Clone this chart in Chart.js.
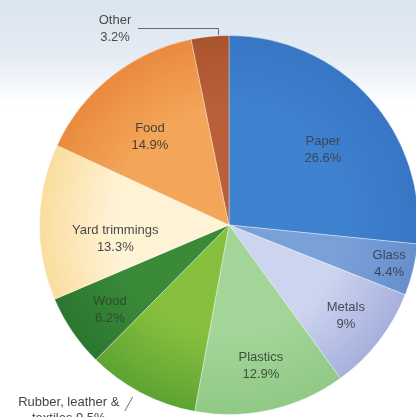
<!DOCTYPE html>
<html>
<head>
<meta charset="utf-8">
<script src="https://cdn.jsdelivr.net/npm/chart.js@4.4.0/dist/chart.umd.min.js"></script>
<style>
  html, body { margin: 0; padding: 0; }
  body {
    width: 416px; height: 417px; overflow: hidden; position: relative;
    background: linear-gradient(to bottom, #dbe5ef 0px, #e4ebf3 55px, #ffffff 105px);
  }
  #pie { position: absolute; left: 0; top: 0; }
</style>
</head>
<body>
<canvas id="pie" width="458" height="450"></canvas>
<script>
// categories, clockwise from 12 o'clock
const categorias = ['Paper', 'Glass', 'Metals', 'Plastics', 'Rubber, leather & textiles', 'Wood', 'Yard trimmings', 'Food', 'Other'];
const valores = [26.6, 4.4, 9, 12.9, 9.5, 6.2, 13.3, 14.9, 3.2];
const etiquetas = [
  ['Paper', '26.6%'],
  ['Glass', '4.4%'],
  ['Metals', '9%'],
  ['Plastics', '12.9%'],
  ['Rubber, leather &', 'textiles 9.5%'],
  ['Wood', '6.2%'],
  ['Yard trimmings', '13.3%'],
  ['Food', '14.9%'],
  ['Other', '3.2%']
];
// colour at the centre / at the rim
const coloresCentro = ['#3f82d0', '#7aa0d8', '#cdd4ef', '#a2d597', '#86bf3e', '#3a8a38', '#fff3d6', '#f3a659', '#b9603a'];
const coloresBorde  = ['#3776c4', '#6690cc', '#a6b0dc', '#90c986', '#5ca332', '#2b7630', '#fadd9e', '#ea8a3e', '#aa542e'];

// posicion de las etiquetas: fraccion del radio y corrimientos
const posRadio = [0.64, 0.87, 0.78, 0.76, 0, 0.76, 0.6, 0.63, 0];
const posDx    = [4, 0, 0, 0, 0, 0, 0, -5, 0];
const posDy    = [6, 0, 0, 0, 0, 4, 16, 6, 0];
const colorTexto = ['#3d4657', '#3d4657', '#444a5a', '#3f5040', '#444', '#2f4a2f', '#4a4a4a', '#4a4036', '#4a4a4a'];

function gradiente(ctx, i) {
  const chart = ctx.chart;
  const area = chart.chartArea;
  if (!area) return coloresBorde[i];
  const cx = (area.left + area.right) / 2;
  const cy = (area.top + area.bottom) / 2;
  const r = Math.min(area.right - area.left, area.bottom - area.top) / 2;
  const g = chart.ctx.createRadialGradient(cx, cy, 0, cx, cy, r);
  g.addColorStop(0, coloresCentro[i]);
  g.addColorStop(0.6, coloresCentro[i]);
  g.addColorStop(1, coloresBorde[i]);
  return g;
}

const etiquetasPlugin = {
  id: 'etiquetas',
  afterDatasetsDraw(chart) {
    const c = chart.ctx;
    const arcs = chart.getDatasetMeta(0).data;
    c.save();
    c.font = '13px "Liberation Sans", Arial, sans-serif';
    c.textBaseline = 'middle';
    const vh = 8.5;
    arcs.forEach((arc, i) => {
      const mid = (arc.startAngle + arc.endAngle) / 2;
      const r = arc.outerRadius;
      c.fillStyle = colorTexto[i];
      c.strokeStyle = '#6a6a6a';
      c.lineWidth = 1;
      if (i === 8) {
        // Other: linea guia hacia arriba y a la izquierda
        const a = arc.startAngle + (arc.endAngle - arc.startAngle) * 0.7;
        const px = Math.round(arc.x + Math.cos(a) * r);
        const py = arc.y + Math.sin(a) * r;
        const ly = Math.round(py) - 8;
        c.beginPath();
        c.moveTo(px + 0.5, py - 1);
        c.lineTo(px + 0.5, ly + 0.5);
        c.lineTo(px - 80, ly + 0.5);
        c.stroke();
        c.textAlign = 'center';
        c.fillText(etiquetas[i][0], px - 103, ly - vh + 1);
        c.fillText(etiquetas[i][1], px - 103, ly + vh + 1);
        return;
      }
      if (i === 4) {
        // Rubber: etiqueta afuera con raya corta
        const a = mid + 0.03;
        const x1 = arc.x + Math.cos(a) * r * 1.04, y1 = arc.y + Math.sin(a) * r * 1.04;
        const x2 = arc.x + Math.cos(a) * r * 1.125, y2 = arc.y + Math.sin(a) * r * 1.125;
        c.beginPath();
        c.moveTo(x1, y1);
        c.lineTo(x2, y2);
        c.stroke();
        c.textAlign = 'center';
        c.fillText(etiquetas[i][0], x2 - 56, y2 - 9);
        c.fillText(etiquetas[i][1], x2 - 56, y2 + 7);
        return;
      }
      const x = arc.x + Math.cos(mid) * r * posRadio[i] + posDx[i];
      const y = arc.y + Math.sin(mid) * r * posRadio[i] + posDy[i];
      c.textAlign = 'center';
      c.fillText(etiquetas[i][0], x, y - vh);
      c.fillText(etiquetas[i][1], x, y + vh);
    });
    c.restore();
  }
};

new Chart(document.getElementById('pie'), {
  type: 'pie',
  data: {
    labels: categorias,
    datasets: [{
      data: valores,
      backgroundColor: (ctx) => gradiente(ctx, ctx.dataIndex),
      borderColor: 'rgba(255,255,255,0.35)',
      borderWidth: 1
    }]
  },
  options: {
    responsive: false,
    animation: false,
    layout: { padding: { left: 39, right: 39, top: 35, bottom: 35 } },
    plugins: {
      legend: { display: false },
      tooltip: { enabled: false }
    }
  },
  plugins: [etiquetasPlugin]
});
</script>
</body>
</html>
